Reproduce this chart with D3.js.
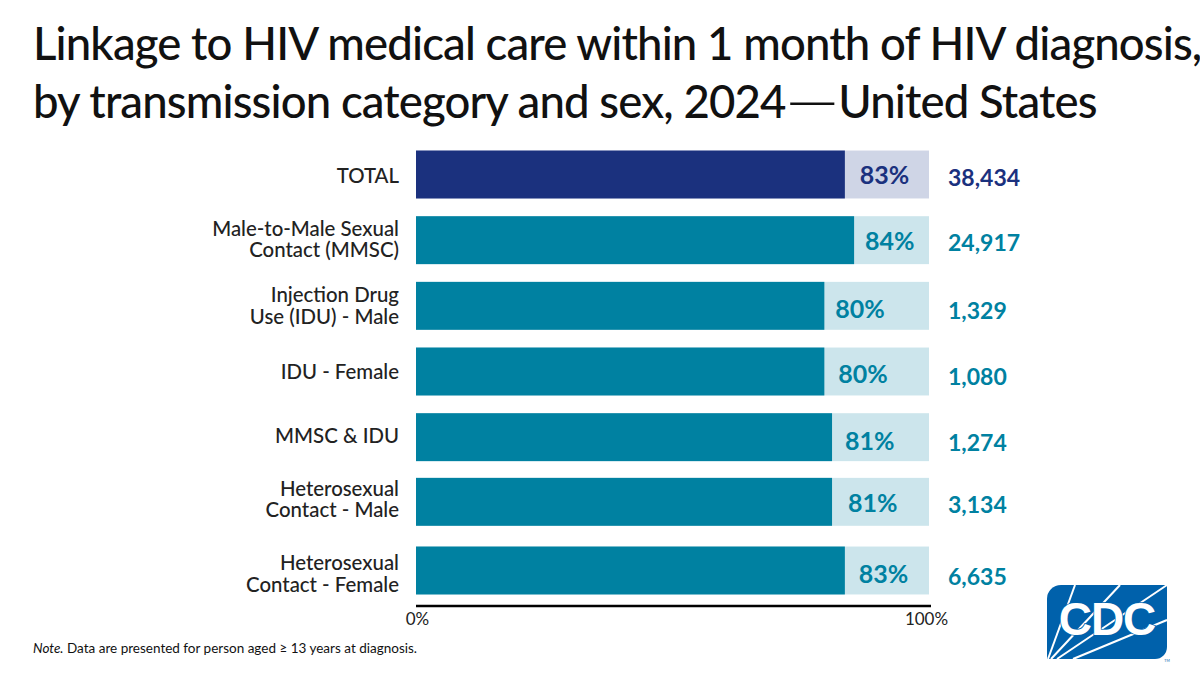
<!DOCTYPE html>
<html>
<head>
<meta charset="utf-8">
<script src="https://cdn.jsdelivr.net/npm/d3@7"></script>
<style>
  html, body { margin: 0; padding: 0; background: #fff; }
  text { font-family: Lato, "Open Sans", sans-serif; }
</style>
</head>
<body>
<svg id="chart" width="1200" height="675"></svg>
<script>
'use strict';

//Chart data
var titleLines = ["Linkage to HIV medical care within 1 month of HIV diagnosis,", "by transmission category and sex, 2024\u2014United States"];
var categories = [
  ["TOTAL"],
  ["Male-to-Male Sexual", "Contact (MMSC)"],
  ["Injection Drug", "Use (IDU) - Male"],
  ["IDU - Female"],
  ["MMSC & IDU"],
  ["Heterosexual", "Contact - Male"],
  ["Heterosexual", "Contact - Female"]
];
var barValues = [83.6, 85.4, 79.6, 79.6, 81.1, 81.1, 83.6];
var percentLabels = ["83%", "84%", "80%", "80%", "81%", "81%", "83%"];
var counts = ["38,434", "24,917", "1,329", "1,080", "1,274", "3,134", "6,635"];
var axisTicks = [0, 100];

//The rows in the original are not quite evenly placed, these are pixel nudges
var rowShift = [0, 0, 0, 0, 0, -1, 2];
var catShift = [1, -1, 0, 0, -1, -2.5, 3.5];
var valueShift = [1, 1, 3, 3, 4, 1, 4];
var percentShift = [15, 11, 11, 14, 13, 16, 14];

var svg = d3.select("#chart");

var x = d3.scaleLinear().domain([0, 100]).range([416, 929]);
var y = d3.scaleBand().domain(d3.range(categories.length)).range([142, 601]).paddingInner(0.27).paddingOuter(0.13);

function rowTop(i) { return y(i) + rowShift[i]; }
function rowMid(i) { return rowTop(i) + y.bandwidth() / 2; }
function rowColor(i) { return i == 0 ? "#1b317e" : "#0081a1"; }

//Title, the dash is wider and thinner in the original
svg.append("g").selectAll("text").data(titleLines).join("text")
  .attr("x", 33)
  .attr("y", function(d, i) { return 60 + i * 58; })
  .attr("font-size", 45.5)
  .attr("font-weight", 500)
  .attr("letter-spacing", -0.87)
  .attr("fill", "#111")
  .each(function(d) {
    var parts = d.split("\u2014");
    var line = d3.select(this);
    line.append("tspan").text(parts[0]);
    if (parts.length > 1) {
      line.append("tspan").attr("font-size", 68).attr("font-weight", 300).attr("dy", 6).text("\u2014");
      line.append("tspan").attr("dy", -6).text(parts[1]);
    }
  });

//Bars
var rows = svg.append("g").selectAll("g").data(categories).join("g");

rows.append("rect")
  .attr("x", x(0))
  .attr("y", function(d, i) { return rowTop(i); })
  .attr("width", x(100) - x(0))
  .attr("height", y.bandwidth())
  .attr("fill", function(d, i) { return i == 0 ? "#cfd5e6" : "#cce5ec"; });

rows.append("rect")
  .attr("x", x(0))
  .attr("y", function(d, i) { return rowTop(i); })
  .attr("width", function(d, i) { return x(barValues[i]) - x(0); })
  .attr("height", y.bandwidth())
  .attr("fill", function(d, i) { return rowColor(i); });

//Category labels
rows.each(function(lines, i) {
  var top = rowMid(i) + catShift[i] - (lines.length - 1) * 10.75;
  d3.select(this).selectAll("text.cat").data(lines).join("text")
    .attr("class", "cat")
    .attr("x", 399)
    .attr("y", function(d, j) { return top + j * 21.5; })
    .attr("dy", "0.35em")
    .attr("text-anchor", "end")
    .attr("font-size", 20.4)
    .attr("font-weight", 500)
    .attr("fill", "#222")
    .text(function(d) { return d; });
});

//Percent labels and case counts
rows.append("text")
  .attr("x", function(d, i) { return x(barValues[i]) + percentShift[i]; })
  .attr("y", function(d, i) { return rowMid(i) + valueShift[i]; })
  .attr("dy", "0.35em")
  .attr("font-size", 25)
  .attr("font-weight", 700)
  .attr("fill", function(d, i) { return rowColor(i); })
  .text(function(d, i) { return percentLabels[i]; });

rows.append("text")
  .attr("x", 948)
  .attr("y", function(d, i) { return rowMid(i) + valueShift[i] + 2; })
  .attr("dy", "0.35em")
  .attr("font-size", 23)
  .attr("font-weight", 700)
  .attr("fill", function(d, i) { return rowColor(i); })
  .text(function(d, i) { return counts[i]; });

//Axis
var axis = d3.axisBottom(x).tickValues(axisTicks).tickSize(0).tickPadding(7).tickFormat(function(d) { return d + "%"; });
var axisG = svg.append("g").attr("transform", "translate(0,606)").call(axis);
axisG.select(".domain")
  .attr("d", "M" + x(0) + ",0H" + (x(100) + 2))
  .attr("stroke", "#000")
  .attr("stroke-width", 2.5);
axisG.selectAll("text")
  .attr("dx", function(d) { return d == 100 ? -3 : 1; })
  .attr("font-size", 17)
  .attr("fill", "#222")
  .attr("font-family", "Lato");

//Note
var note = svg.append("text").attr("x", 33).attr("y", 653).attr("font-size", 13.5).attr("fill", "#111");
note.append("tspan").attr("font-style", "italic").text("Note.");
note.append("tspan").text(" Data are presented for person aged \u2265 13 years at diagnosis.");

//CDC logo
var logo = svg.append("g").attr("transform", "translate(1047,585)");
logo.append("path")
  .attr("d", "M14,0 H120 V62 A12,12 0 0 1 108,74 H0 V14 A14,14 0 0 1 14,0 Z")
  .attr("fill", "#0061ab");
var rays = [[1, 74, 28, 0], [4, 74, 73, 0], [10, 74, 120, 0], [26, 74, 120, 35]];
logo.selectAll("line").data(rays).join("line")
  .attr("x1", function(d) { return d[0]; })
  .attr("y1", function(d) { return d[1]; })
  .attr("x2", function(d) { return d[2]; })
  .attr("y2", function(d) { return d[3]; })
  .attr("stroke", "#fff")
  .attr("stroke-width", 2);
logo.append("text")
  .attr("x", 60).attr("y", 50)
  .attr("text-anchor", "middle")
  .attr("font-size", 46)
  .attr("font-weight", 700)
  .attr("letter-spacing", -1)
  .attr("fill", "#fff")
  .attr("stroke", "#0061ab")
  .attr("stroke-width", 1.5)
  .attr("paint-order", "stroke")
  .attr("style", "font-family:'Liberation Sans'")
  .text("CDC");
logo.append("text")
  .attr("x", 120).attr("y", 77)
  .attr("text-anchor", "middle")
  .attr("font-size", 3.5)
  .attr("fill", "#0061ab")
  .text("TM");
</script>
</body>
</html>
